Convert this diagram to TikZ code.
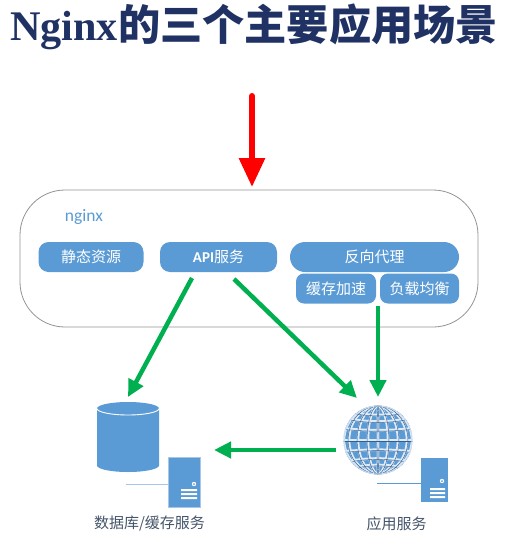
\documentclass[tikz,border=0pt]{standalone}
\usepackage{fontspec}
\usetikzlibrary{arrows.meta}
\setmainfont{Noto Sans CJK SC}
\newfontfamily\latinbold{Liberation Serif}
\newfontfamily\cjkfont{Noto Sans CJK SC}
\newfontfamily\carlito{Carlito}
\definecolor{mblue}{HTML}{5B9BD5}
\definecolor{lblue}{HTML}{A9C6E6}
\definecolor{titlec}{HTML}{203264}
\definecolor{mgreen}{HTML}{00B050}
\definecolor{labelc}{HTML}{44546A}
\definecolor{gridd}{HTML}{2F5F94}
\newcommand{\lowered}[1]{\raisebox{-1pt}{#1}}
\tikzset{
  pill/.style={fill=mblue,text=white,inner sep=0pt,font=\cjkfont\fontsize{15}{16}\selectfont},
  garrow/.style={draw=mgreen,line width=4.5pt,-{Triangle[width=16pt,length=17pt]}},
  rarrow/.style={draw=red,line width=6pt,line cap=round,-{Triangle[width=25pt,length=29pt]}},
  srv/.style={fill=mblue,draw=lblue,line width=0.7pt},
  caption/.style={text=labelc,inner sep=0pt,font=\cjkfont\fontsize{15}{16}\selectfont},
}
\begin{document}
\begin{tikzpicture}[x=1pt,y=-1pt]
\useasboundingbox (0,0) rectangle (509,541);
% title
\node[anchor=west,inner sep=0pt,text=titlec,font=\fontsize{42.2}{44}\selectfont] (title) at (10,27) {\latinbold\bfseries Nginx\cjkfont\bfseries 的三个主要应用场景};
% container
\node[draw=gray!85,line width=0.8pt,rounded corners=45pt,minimum width=458pt,minimum height=137pt,inner sep=0pt] (box) at (249,258.5) {};
\node[anchor=center,inner sep=0pt,text=mblue,font=\carlito\fontsize{17.5}{18}\selectfont] (ng) at (84,217) {nginx};
\node[pill,rounded corners=10pt,minimum width=105pt,minimum height=30pt] (st) at (91,257) {\lowered{静态资源}};
\node[pill,rounded corners=10pt,minimum width=117pt,minimum height=30pt] (api) at (218.5,257) {\lowered{{\carlito\bfseries API}服务}};
\node[pill,rounded corners=15pt,minimum width=169pt,minimum height=30pt] (rp) at (374.5,257) {\lowered{反向代理}};
\node[pill,rounded corners=8pt,minimum width=80pt,minimum height=30pt] (cache) at (336,288.5) {缓存加速};
\node[pill,rounded corners=8pt,minimum width=79pt,minimum height=30pt] (lb) at (419.5,288.5) {负载均衡};
% cylinder
\node[inner sep=0pt,minimum width=62pt,minimum height=70pt] (db) at (128,437) {};
\fill[mblue] (97,408.5) -- (97,465.5) .. controls (97,469.1) and (110.9,472) .. (128,472) .. controls (145.1,472) and (159,469.1) .. (159,465.5) -- (159,408.5) .. controls (159,404.9) and (145.1,402) .. (128,402) .. controls (110.9,402) and (97,404.9) .. (97,408.5) -- cycle;
\draw[white,line width=0.9pt] (97,408.5) .. controls (97,412.1) and (110.9,415) .. (128,415) .. controls (145.1,415) and (159,412.1) .. (159,408.5);
% db server
\draw[lblue,line width=1pt] (126,484) -- (168,484);
\node[srv,minimum width=32pt,minimum height=50pt,inner sep=0pt] (s1) at (184,482) {};
\fill[white] (194,484) circle (2.2pt); \fill[mblue] (194,484) circle (1pt);
\fill[white] (181,489) rectangle (197,491) (181,493) rectangle (197,495) (181,497) rectangle (197,499);
% app server
\draw[mblue,line width=0.8pt] (377,483) -- (421,483);
\node[srv,draw=none,minimum width=27pt,minimum height=44pt,inner sep=0pt] (s2) at (434.5,480) {};
\fill[white] (442,481) circle (2.2pt); \fill[mblue] (442,481) circle (1pt);
\fill[white] (430,488) rectangle (445,490) (430,492) rectangle (445,494) (430,496) rectangle (445,498);
% globe
\node[circle,fill=mblue,minimum size=68pt,inner sep=0pt] (globe) at (378,440) {};
\begin{scope}
\clip (378,440) circle (34.5pt);
\foreach \c/\w/\o in {lblue!35!white/2.6pt/0,gridd/0.45pt/0.9}{
 \foreach \rx in {0.1,10,20,29,34}{
  \draw[\c,line width=\w] (378,440) ellipse[x radius=\rx+\o,y radius=34];
 }
 \foreach \d/\b in {0/0,-12/3,12/-3,-23/6,23/-6,-31/8,31/-8}{
  \draw[\c,line width=\w] (340,440+\d+\o) .. controls (365,440+\d+\b+\o) and (391,440+\d+\b+\o) .. (416,440+\d+\o);
 }
}
\end{scope}
\draw[lblue!60!white,line width=1pt] (378,440) circle (34pt);
% captions
\node[caption] (c1) at (149.5,524) {数据库/缓存服务};
\node[caption] (c2) at (396.5,524) {应用服务};
% connectors
\coordinate (top) at (252,96);
\coordinate (boxtop) at (252,187);
\coordinate (a1) at (192,278); \coordinate (a2) at (128,397);
\coordinate (b1) at (234,279); \coordinate (b2) at (357,398);
\coordinate (d1) at (378,306); \coordinate (d2) at (378,397);
\coordinate (e1) at (336,450); \coordinate (e2) at (214,450);
\draw[rarrow] (top) -- (boxtop);
\draw[garrow] (a1) -- (a2);
\draw[garrow] (b1) -- (b2);
\draw[garrow] (d1) -- (d2);
\draw[garrow] (e1) -- (e2);
\end{tikzpicture}
\end{document}
